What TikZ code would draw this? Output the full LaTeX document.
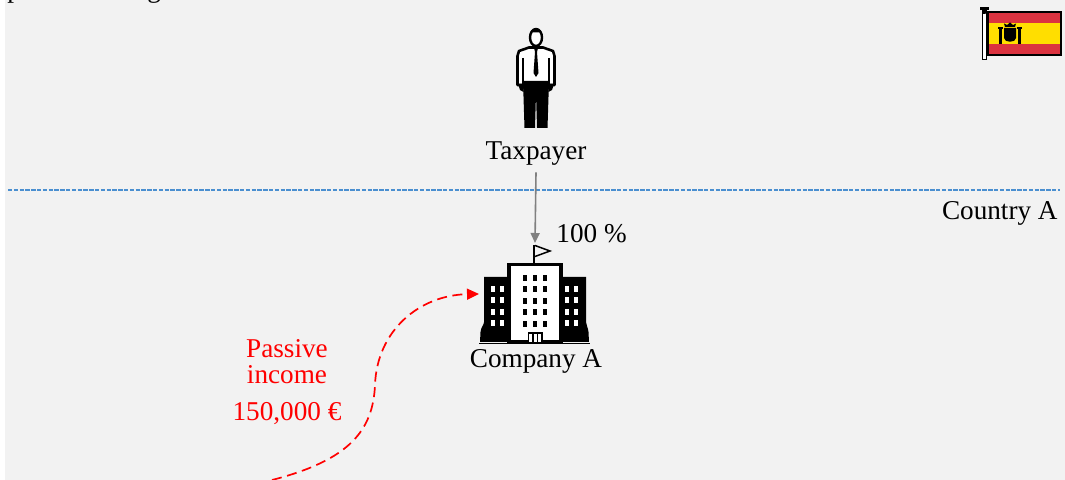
\documentclass[tikz,border=0pt]{standalone}
\usepackage{fontspec}
\setmainfont{Liberation Serif}
\usetikzlibrary{arrows.meta}
\definecolor{bg}{HTML}{F2F2F2}
\definecolor{lineblue}{HTML}{4A8FD0}
\definecolor{esred}{HTML}{DB3340}
\definecolor{esyellow}{HTML}{FFDE00}
\definecolor{arrowgray}{HTML}{808080}
\begin{document}
\begin{tikzpicture}[x=0.5pt,y=-0.5pt,
  txt/.style={font=\fontsize{13.6}{13}\selectfont, inner sep=0pt},
  redtxt/.style={txt, text=red},
  owner/.style={draw=arrowgray, line width=0.8pt, -{Triangle[length=5pt,width=4.5pt]}},
  flow/.style={draw=red, line width=0.85pt, dash pattern=on 5pt off 2.8pt, -{Triangle[length=6pt,width=5.5pt]}},
  border/.style={draw=lineblue, line width=0.65pt, dash pattern=on 2.2pt off 0.7pt}]
\useasboundingbox (0,0) rectangle (1065,480);
\clip (0,0) rectangle (1065,480);
\fill[white] (0,0) rectangle (1065,480);
\fill[bg] (5,0) rectangle (1065,480);

% cut-off title (only descenders visible)
\node[txt, anchor=base west] (t1) at (7,-2) {p};
\node[txt, anchor=base west] (t2) at (147,-2) {g};

% country border
\coordinate (bL) at (8,190);
\coordinate (bR) at (1060,190);
\draw[border] (bL) -- (bR);
\node[txt, anchor=base east] (country) at (1058,220) {Country A};

% Spanish flag
\draw[line width=0.5pt, fill=white] (982,9) rectangle (986.5,60);
\fill (980,7) rectangle (989,10);
\fill (982,10) -- (986.5,10) -- (985.5,14) -- (983,14) -- cycle;
\fill[esred] (988,12) rectangle (1061,55);
\fill[esyellow] (988,22.75) rectangle (1061,44.25);
\draw[line width=0.6pt] (988,12) rectangle (1061,55);
\fill (1005,27) -- (1004,23.5) -- (1007,25) -- (1010,22.5) -- (1013,25) -- (1016,23.5) -- (1015,27) -- cycle;
\fill (1004,28) -- (1016,28) -- (1016,38) .. controls (1016,43) and (1004,43) .. (1004,38) -- cycle;
\fill (999,29) rectangle (1002,44);
\fill (1018,29) rectangle (1021,44);
\fill (998,27.5) rectangle (1003,29.5);
\fill (1017,27.5) rectangle (1022,29.5);

% taxpayer icon
\begin{scope}[line join=round]
  \filldraw[fill=white, draw=black, line width=1.3pt] (519,51) -- (529,47.5) -- (543,47.5) -- (553,51) -- (554.5,56) -- (554.5,85) -- (517.5,85) -- (517.5,56) -- cycle;
  \draw[line width=0.6pt] (523,58) -- (523,85) (549,58) -- (549,85);
  \fill (518,84) -- (524,84) -- (523.5,92) -- (520,90) -- cycle;
  \fill (548,84) -- (554,84) -- (552,90) -- (548.5,92) -- cycle;
  \fill (523,81) -- (549,81) -- (547.5,128) -- (537,128) -- (536,94) -- (535,128) -- (524.5,128) -- cycle;
  \fill (534,48) -- (538,48) -- (537,52) -- (538.5,73) -- (536,77) -- (533.5,73) -- (535,52) -- cycle;
  \filldraw[fill=white, line width=1.2pt] (536,37.5) ellipse [x radius=6, y radius=8.5];
  \fill (530,35) .. controls (529,26.5) and (543,26.5) .. (542,35) -- (541,32.5) -- (531,32.5) -- cycle;
\end{scope}
\node[txt, anchor=base] (tax) at (536,160) {Taxpayer};

% company building icon
\coordinate (flagtop) at (535,243);
\draw[line width=0.75pt] (534,263) -- (534,245);
\draw[line width=0.75pt, line join=miter] (535,245.5) -- (550,251) -- (535,256.5);
\fill (484,277) -- (507,277) -- (507,342) -- (480,342) -- (480.5,332) .. controls (481,327) and (484,325) .. (484,322) -- cycle;
\fill (586,277) -- (562,277) -- (562,342) -- (589,342) -- (588.5,332) .. controls (588,327) and (586,325) .. (586,322) -- cycle;
\filldraw[fill=white, line width=1.6pt] (509,264.5) rectangle (561,342);
\foreach \yy in {275,286.5,298,309.5,321} {
  \foreach \xx in {523,533,543} {\fill (\xx,\yy) rectangle ++(4,6);}
}
\foreach \yy in {286,297.5,309,320.5} {
  \foreach \xx in {491,500,565,574} {\fill[white] (\xx,\yy) rectangle ++(4,6);}
}
\draw[line width=0.75pt, fill=white] (528.5,333) rectangle (542,343);
\draw[line width=0.6pt] (533,333) -- (533,343) (537.5,333) -- (537.5,343);
\draw[line width=0.6pt] (479,343.5) -- (590,343.5);
\node[txt, anchor=base] (comp) at (536,368) {Company A};
\coordinate (compW) at (479,294);

% ownership
\draw[owner] ([yshift=-3pt]tax.south) -- (flagtop);
\node[txt, anchor=base west] (pct) at (556,243) {100 \%};

% passive income
\node[redtxt, anchor=base] (p1) at (287,358) {Passive};
\node[redtxt, anchor=base] (p2) at (287,384) {income};
\node[redtxt, anchor=base] (p3) at (287,421) {150,000 €};
\coordinate (src) at (272,480);
\draw[flow] (src) .. controls (350,460) and (373,430) .. (375,385) .. controls (377,330) and (420,295) .. (compW);
\end{tikzpicture}
\end{document}
